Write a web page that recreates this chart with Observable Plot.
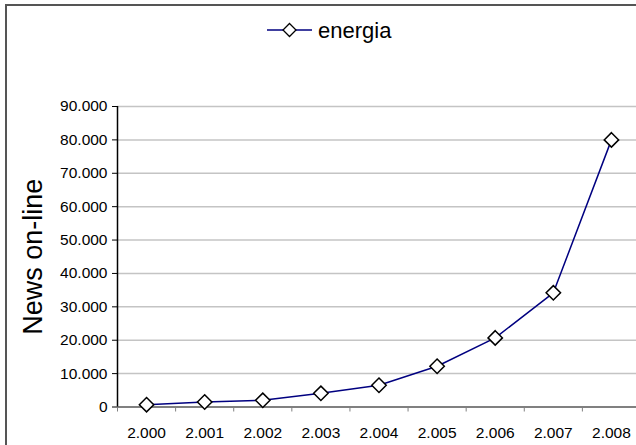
<!DOCTYPE html>
<html><head><meta charset="utf-8">
<script src="https://cdn.jsdelivr.net/npm/d3@7"></script>
<script src="https://cdn.jsdelivr.net/npm/@observablehq/plot@0.6"></script>
<style>
html,body{margin:0;padding:0;background:#fff;}
#wrap{position:relative;width:636px;height:445px;overflow:hidden;font-family:"Liberation Sans",Arial,sans-serif;background:#fff;}
#chart{position:absolute;left:0;top:0;}
#frame{position:absolute;left:5px;top:4px;width:700px;height:500px;border:2px solid #555;box-sizing:border-box;pointer-events:none;}
#legend{position:absolute;left:0;top:0;}
</style></head><body>
<div id="wrap">
  <div id="chart"></div>
  <div id="frame"></div>
  <svg id="legend" width="636" height="60" font-family="Liberation Sans, Arial, sans-serif">
    <line x1="267" x2="312" y1="30" y2="30" stroke="#000080" stroke-width="1.5"></line>
    <path d="M289.5,23.5L296,30L289.5,36.5L283,30Z" fill="#fff" stroke="#000" stroke-width="1.3"></path>
    <text id="legendText" x="318" y="38" font-size="22" fill="#000"></text>
  </svg>
</div>
<script>
const years = [2000, 2001, 2002, 2003, 2004, 2005, 2006, 2007, 2008];
const xTickLabels = ["2.000", "2.001", "2.002", "2.003", "2.004", "2.005", "2.006", "2.007", "2.008"];
const values = [700, 1500, 2000, 4100, 6500, 12200, 20700, 34200, 80000];
const yTicks = [0, 10000, 20000, 30000, 40000, 50000, 60000, 70000, 80000, 90000];
const yTickLabels = ["0", "10.000", "20.000", "30.000", "40.000", "50.000", "60.000", "70.000", "80.000", "90.000"];
const seriesName = "energia";
const yTitle = "News on-line";

const data = years.map((y, i) => ({year: y, value: values[i]}));
const bounds = years.map(y => y - 0.5).concat([years[years.length - 1] + 0.5]);

document.getElementById("legendText").textContent = seriesName;

const chart = Plot.plot({
  width: 636, height: 445,
  marginTop: 106, marginBottom: 38.5, marginLeft: 117, marginRight: 0,
  style: {fontFamily: "Liberation Sans, Arial, sans-serif", background: "transparent", color: "#000", overflow: "hidden"},
  x: {type: "linear", domain: [years[0] - 0.5, years[years.length - 1] + 0.5], range: [117, 640]},
  y: {domain: [0, 90000], range: [406.5, 106]},
  marks: [
    Plot.gridY(yTicks.slice(1), {stroke: "#c4c4c4", strokeWidth: 1.5, strokeOpacity: 1}),
    Plot.axisY(yTicks, {tickSize: 5, tickPadding: 5, fontSize: 15.5, stroke: "#000",
      tickFormat: d => yTickLabels[yTicks.indexOf(d)], label: null}),
    Plot.axisY([], {label: yTitle, labelArrow: "none", labelAnchor: "center", labelOffset: 95, fontSize: 27, tickSize: 0}),
    Plot.axisX(bounds, {tickSize: 5, stroke: "#808080", tickFormat: () => "", label: null}),
    Plot.axisX(years, {tickSize: 0, tickPadding: 20, fontSize: 15.5,
      tickFormat: d => xTickLabels[years.indexOf(d)], label: null}),
    Plot.ruleY([0], {stroke: "#808080", strokeWidth: 2}),
    Plot.ruleX([years[0] - 0.5], {stroke: "#000", strokeWidth: 1.5}),
    Plot.line(data, {x: "year", y: "value", stroke: "#000080", strokeWidth: 1.5}),
    Plot.dot(data, {x: "year", y: "value", symbol: "diamond2", r: 6.5, fill: "#fff", stroke: "#000", strokeWidth: 1.5})
  ]
});
document.getElementById("chart").appendChild(chart);
</script>
</body></html>
